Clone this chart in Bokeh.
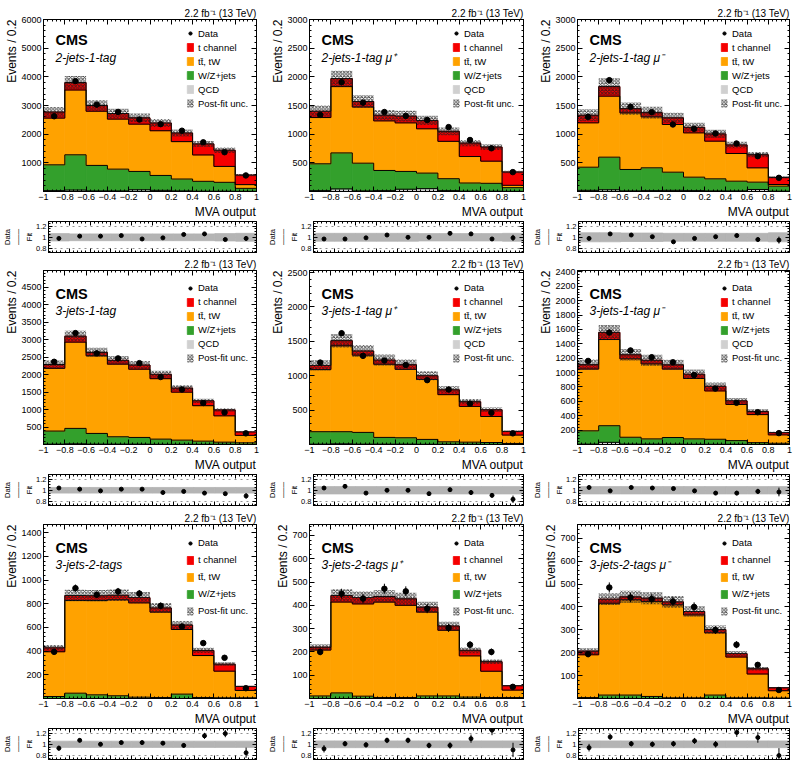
import math

from bokeh.embed import file_html
from bokeh.layouts import column, row
from bokeh.models import (FixedTicker, Grid, Label, Legend, LegendItem, LinearAxis,
                          Range1d, Title)
from bokeh.plotting import figure
from bokeh.resources import INLINE

FONT = "Liberation Sans"

# ---------------------------------------------------------------- binning
bin_edges = [-1.0, -0.8, -0.6, -0.4, -0.2, 0.0, 0.2, 0.4, 0.6, 0.8, 1.0]
x_tick_labels = ["\u22121", "\u22120.8", "\u22120.6", "\u22120.4", "\u22120.2", "0",
                 "0.2", "0.4", "0.6", "0.8", "1"]
ratio_ticks = [0.8, 1.0, 1.2]
ratio_tick_labels = ["0.8", "1", "1.2"]

# ---------------------------------------------------------------- 2-jets-1-tag
qcd_2j1t = [30, 50, 20, 20, 60, 40, 20, 10, 10, 5]
wz_2j1t = [900, 1230, 890, 760, 640, 520, 415, 345, 310, 105]
tt_2j1t = [1630, 2260, 1890, 1745, 1650, 1560, 1305, 920, 555, 130]
tch_2j1t = [210, 260, 200, 195, 220, 270, 300, 385, 565, 330]
data_2j1t = [2625, 3850, 3030, 2775, 2510, 2350, 2120, 1715, 1370, 560]
ratio_2j1t = [0.98, 1.02, 1.02, 1.03, 0.97, 0.99, 1.05, 1.06, 0.96, 0.98]
unc_2j1t = [0.065, 0.06, 0.06, 0.06, 0.06, 0.06, 0.06, 0.06, 0.065, 0.07]
yticks_2j1t = [1000, 2000, 3000, 4000, 5000, 6000]

# 2-jets-1-tag mu+
qcd_2j1t_p = [15, 45, 10, 15, 40, 50, 15, 5, 5, 3]
wz_2j1t_p = [468, 628, 484, 352, 310, 271, 208, 143, 138, 64]
tt_2j1t_p = [807, 1157, 980, 865, 847, 773, 652, 462, 386, 41]
tch_2j1t_p = [110, 140, 96, 98, 118, 146, 175, 235, 246, 232]
data_2j1t_p = [1336, 1906, 1550, 1386, 1319, 1247, 1123, 898, 754, 338]
ratio_2j1t_p = [0.97, 0.97, 0.99, 1.04, 1.00, 1.00, 1.07, 1.06, 0.97, 0.99]
unc_2j1t_p = [0.07, 0.07, 0.07, 0.07, 0.07, 0.065, 0.065, 0.065, 0.065, 0.07]
yticks_2j1t_p = [500, 1000, 1500, 2000, 2500, 3000]

# 2-jets-1-tag mu-
qcd_2j1t_m = [20, 30, 10, 15, 20, 15, 10, 10, 35, 5]
wz_2j1t_m = [404, 569, 374, 398, 317, 235, 211, 170, 128, 88]
tt_2j1t_m = [774, 1064, 988, 889, 832, 773, 657, 483, 250, 29]
tch_2j1t_m = [132, 167, 73, 73, 116, 97, 127, 149, 229, 123]
data_2j1t_m = [1302, 1942, 1477, 1384, 1169, 1093, 1012, 837, 616, 238]
ratio_2j1t_m = [0.98, 1.06, 1.04, 1.01, 0.92, 0.98, 1.01, 1.03, 0.96, 0.95]
unc_2j1t_m = [0.08, 0.08, 0.075, 0.075, 0.07, 0.07, 0.07, 0.07, 0.07, 0.08]
yticks_2j1t_m = [500, 1000, 1500, 2000, 2500, 3000]

# ---------------------------------------------------------------- 3-jets-1-tag
qcd_3j1t = [10, 20, 10, 10, 10, 5, 5, 5, 5, 2]
wz_3j1t = [375, 441, 307, 211, 192, 149, 120, 91, 62, 46]
tt_3j1t = [1795, 2469, 2224, 2079, 1953, 1730, 1373, 1015, 754, 213]
tch_3j1t = [110, 170, 95, 110, 120, 126, 117, 139, 169, 99]
data_3j1t = [2367, 3188, 2609, 2464, 2329, 1932, 1575, 1188, 918, 319]
ratio_3j1t = [1.04, 1.02, 0.99, 1.02, 1.02, 0.96, 0.98, 0.95, 0.94, 0.90]
unc_3j1t = [0.05, 0.05, 0.05, 0.05, 0.05, 0.05, 0.05, 0.05, 0.05, 0.05]
yticks_3j1t = [500, 1000, 1500, 2000, 2500, 3000, 3500, 4000, 4500]

# 3-jets-1-tag mu+
qcd_3j1t_p = [5, 10, 5, 5, 5, 3, 3, 3, 2, 1]
wz_3j1t_p = [181, 176, 171, 98, 93, 71, 36, 31, 27, 14]
tt_3j1t_p = [904, 1250, 1123, 1064, 995, 872, 686, 520, 378, 122]
tch_3j1t_p = [60, 74, 61, 61, 67, 54, 70, 68, 98, 53]
data_3j1t_p = [1191, 1618, 1289, 1221, 1157, 936, 799, 593, 461, 162]
ratio_3j1t_p = [1.04, 1.07, 0.95, 1.00, 1.00, 0.94, 1.01, 0.96, 0.91, 0.84]
unc_3j1t_p = [0.065, 0.065, 0.065, 0.065, 0.065, 0.065, 0.065, 0.065, 0.065, 0.065]
yticks_3j1t_p = [500, 1000, 1500, 2000, 2500]

# 3-jets-1-tag mu-
qcd_3j1t_m = [5, 30, 5, 5, 5, 3, 3, 3, 2, 1]
wz_3j1t_m = [185, 231, 96, 73, 92, 75, 70, 51, 24, 16]
tt_3j1t_m = [860, 1199, 1090, 1043, 953, 840, 672, 503, 390, 117]
tch_3j1t_m = [60, 100, 57, 51, 58, 60, 65, 50, 44, 31]
data_3j1t_m = [1162, 1557, 1308, 1214, 1143, 966, 778, 580, 449, 158]
ratio_3j1t_m = [1.05, 0.99, 1.05, 1.04, 1.03, 0.99, 0.95, 0.95, 0.98, 0.97]
unc_3j1t_m = [0.065, 0.065, 0.065, 0.065, 0.065, 0.065, 0.065, 0.065, 0.065, 0.065]
yticks_3j1t_m = [200, 400, 600, 800, 1000, 1200, 1400, 1600, 1800, 2000, 2200, 2400]

# ---------------------------------------------------------------- 3-jets-2-tags
wz_3j2t = [17, 45, 31, 23, 11, 8, 37, 8, 6, 6]
tt_3j2t = [378, 783, 797, 811, 797, 722, 546, 355, 225, 62]
tch_3j2t = [33, 42, 40, 38, 44, 35, 38, 43, 59, 34]
data_3j2t = [394, 932, 876, 904, 887, 783, 608, 468, 344, 87]
ratio_3j2t = [0.93, 1.07, 1.00, 1.03, 1.03, 1.02, 0.98, 1.15, 1.19, 0.85]
unc_3j2t = [0.055, 0.055, 0.055, 0.055, 0.055, 0.055, 0.055, 0.055, 0.055, 0.055]
yticks_3j2t = [200, 400, 600, 800, 1000, 1200, 1400]

# 3-jets-2-tags mu+
wz_3j2t_p = [11, 24, 10, 4, 4, 11, 11, 6, 4, 4]
tt_3j2t_p = [197, 390, 396, 410, 396, 360, 282, 177, 113, 32]
tch_3j2t_p = [12, 28, 27, 24, 28, 21, 18, 24, 41, 19]
data_3j2t_p = [200, 450, 429, 471, 460, 386, 303, 231, 200, 50]
ratio_3j2t_p = [0.92, 1.01, 0.99, 1.07, 1.07, 0.98, 0.98, 1.10, 1.25, 0.90]
unc_3j2t_p = [0.06, 0.06, 0.06, 0.06, 0.06, 0.06, 0.06, 0.06, 0.06, 0.06]
yticks_3j2t_p = [100, 200, 300, 400, 500, 600, 700]

# 3-jets-2-tags mu-
wz_3j2t_m = [4, 15, 15, 9, 3, 3, 15, 3, 3, 2]
tt_3j2t_m = [187, 401, 416, 415, 406, 362, 272, 178, 104, 32]
tch_3j2t_m = [16, 18, 13, 14, 13, 15, 14, 15, 23, 13]
data_3j2t_m = [194, 485, 441, 435, 424, 400, 299, 235, 147, 37]
ratio_3j2t_m = [0.94, 1.13, 1.01, 1.00, 1.01, 1.06, 1.00, 1.21, 1.12, 0.80]
unc_3j2t_m = [0.06, 0.06, 0.06, 0.06, 0.06, 0.06, 0.06, 0.06, 0.06, 0.06]
yticks_3j2t_m = [100, 200, 300, 400, 500, 600, 700]

PANELS = [
    [dict(label="2-jets-1-tag", qcd=qcd_2j1t, wz=wz_2j1t, tt=tt_2j1t, tch=tch_2j1t,
          data=data_2j1t, ratio=ratio_2j1t, unc=unc_2j1t, yticks=yticks_2j1t, ymax=6000),
     dict(label="2-jets-1-tag  \u03bc\u207a", qcd=qcd_2j1t_p, wz=wz_2j1t_p, tt=tt_2j1t_p,
          tch=tch_2j1t_p, data=data_2j1t_p, ratio=ratio_2j1t_p, unc=unc_2j1t_p,
          yticks=yticks_2j1t_p, ymax=3000),
     dict(label="2-jets-1-tag  \u03bc\u207b", qcd=qcd_2j1t_m, wz=wz_2j1t_m, tt=tt_2j1t_m,
          tch=tch_2j1t_m, data=data_2j1t_m, ratio=ratio_2j1t_m, unc=unc_2j1t_m,
          yticks=yticks_2j1t_m, ymax=3000)],
    [dict(label="3-jets-1-tag", qcd=qcd_3j1t, wz=wz_3j1t, tt=tt_3j1t, tch=tch_3j1t,
          data=data_3j1t, ratio=ratio_3j1t, unc=unc_3j1t, yticks=yticks_3j1t, ymax=4980),
     dict(label="3-jets-1-tag  \u03bc\u207a", qcd=qcd_3j1t_p, wz=wz_3j1t_p, tt=tt_3j1t_p,
          tch=tch_3j1t_p, data=data_3j1t_p, ratio=ratio_3j1t_p, unc=unc_3j1t_p,
          yticks=yticks_3j1t_p, ymax=2530),
     dict(label="3-jets-1-tag  \u03bc\u207b", qcd=qcd_3j1t_m, wz=wz_3j1t_m, tt=tt_3j1t_m,
          tch=tch_3j1t_m, data=data_3j1t_m, ratio=ratio_3j1t_m, unc=unc_3j1t_m,
          yticks=yticks_3j1t_m, ymax=2420)],
    [dict(label="3-jets-2-tags", qcd=None, wz=wz_3j2t, tt=tt_3j2t, tch=tch_3j2t,
          data=data_3j2t, ratio=ratio_3j2t, unc=unc_3j2t, yticks=yticks_3j2t, ymax=1470),
     dict(label="3-jets-2-tags  \u03bc\u207a", qcd=None, wz=wz_3j2t_p, tt=tt_3j2t_p,
          tch=tch_3j2t_p, data=data_3j2t_p, ratio=ratio_3j2t_p, unc=unc_3j2t_p,
          yticks=yticks_3j2t_p, ymax=747),
     dict(label="3-jets-2-tags  \u03bc\u207b", qcd=None, wz=wz_3j2t_m, tt=tt_3j2t_m,
          tch=tch_3j2t_m, data=data_3j2t_m, ratio=ratio_3j2t_m, unc=unc_3j2t_m,
          yticks=yticks_3j2t_m, ymax=760)],
]

# ---------------------------------------------------------------- styling
TCH_COLOR = "#f50000"
TT_COLOR = "#ffa200"
WZ_COLOR = "#33a02c"
QCD_COLOR = "#d0d0d0"
BAND_COLOR = "#b4b4b4"
TT_LABEL = "tt\u0304, tW"

PANEL_W = 265
COL_BORDERS = [(43, 9), (44, 7), (47, 6)]          # left / right border per column
MAIN_ROWS = [(19, 172, 28), (16, 174, 28), (17, 174, 28)]   # top, frame, bottom
RATIO_ROWS = [(2, 31, 2), (2, 31, 2), (2, 31, 10)]
TEXT_OFFSETS = [(20, 38), (23, 40), (23, 40)]      # CMS / category baselines below frame top
LEGEND_ROWS = [(14.3, 3), (17.7, 3), (18.7, 6)]    # first item centre, gap between items
LEGEND_ITEM_H = 11

x_minor = [round(-1 + 0.04 * k, 2) for k in range(51)]
x_label_map = dict(zip(bin_edges, x_tick_labels))
lefts = bin_edges[:-1]
rights = bin_edges[1:]
centers = [(a + b) / 2 for a, b in zip(lefts, rights)]


def add_axis(p, side, ticker, labels=None, font_size="9px", show=True, tick=5):
    ax = LinearAxis(ticker=ticker)
    ax.axis_line_color = "black"
    ax.major_tick_in = tick
    ax.major_tick_out = 0
    ax.minor_tick_in = max(2, tick // 2)
    ax.minor_tick_out = 0
    ax.major_tick_line_color = "black"
    ax.minor_tick_line_color = "black"
    ax.major_label_text_font = FONT
    if show:
        ax.major_label_text_color = "black"
        ax.major_label_text_font_size = font_size
        ax.major_label_standoff = 2
        if labels:
            ax.major_label_overrides = labels
    else:
        # tick marks only: labels take no room and are not drawn
        ax.major_label_text_color = None
        ax.major_label_text_font_size = "0px"
        ax.major_label_standoff = 0
    p.add_layout(ax, side)
    return ax


def caption(text, align, size, standoff=0):
    return Title(text=text, align=align, text_font=FONT, text_font_size=size,
                 text_font_style="normal", text_color="black",
                 standoff=standoff, offset=0)


def step_path(top):
    xs, ys = [bin_edges[0]], [0]
    for l, r, t in zip(lefts, rights, top):
        xs += [l, r]
        ys += [t, t]
    xs.append(bin_edges[-1])
    ys.append(0)
    return xs, ys


def base_figure(width, height, borders, x_range, y_range):
    left, right, top, bottom = borders
    p = figure(width=width, height=height, x_range=x_range, y_range=y_range,
               x_axis_type=None, y_axis_type=None, title=None,
               output_backend="svg", toolbar_location=None,
               min_border_left=left, min_border_right=right,
               min_border_top=top, min_border_bottom=bottom)
    p.outline_line_color = "black"
    p.outline_line_width = 1
    p.background_fill_color = "white"
    p.border_fill_color = "white"
    return p


def main_panel(spec, col, rw):
    left, right = COL_BORDERS[col]
    top, frame_h, bottom = MAIN_ROWS[rw]
    p = base_figure(PANEL_W, top + frame_h + bottom, (left, right, top, bottom),
                    Range1d(-1, 1), Range1d(0, spec["ymax"]))

    yt = spec["yticks"]
    step = yt[1] - yt[0]
    y_minor = [k * step / 5 for k in range(int(spec["ymax"] / step * 5) + 1)]
    xticker = FixedTicker(ticks=bin_edges, minor_ticks=x_minor)
    yticker = FixedTicker(ticks=yt, minor_ticks=y_minor)
    add_axis(p, "below", xticker, labels=x_label_map)
    add_axis(p, "left", yticker)
    add_axis(p, "above", xticker, show=False)
    add_axis(p, "right", yticker, show=False)

    p.add_layout(caption("MVA output", "right", "12px"), "below")
    p.add_layout(caption("Events / 0.2", "right", "12px"), "left")
    p.add_layout(caption("2.2 fb\u207b\u00b9 (13 TeV)", "right", "10px", standoff=2), "above")

    # stacked backgrounds + signal
    layers = []
    if spec["qcd"] is not None:
        layers.append(("QCD", spec["qcd"], QCD_COLOR))
    layers += [("W/Z+jets", spec["wz"], WZ_COLOR),
               (TT_LABEL, spec["tt"], TT_COLOR),
               ("t channel", spec["tch"], TCH_COLOR)]
    base = [0.0] * len(centers)
    rends = {}
    tops = []
    for name, vals, color in layers:
        top_vals = [b + v for b, v in zip(base, vals)]
        rends[name] = p.quad(left=lefts, right=rights, bottom=base, top=top_vals,
                             fill_color=color, line_color=color, line_width=0.8)
        tops.append(top_vals)
        base = top_vals
    total = base
    for top_vals in tops:
        xs, ys = step_path(top_vals)
        p.line(xs, ys, line_color="black", line_width=1)

    # post-fit uncertainty band
    lo = [t * (1 - u) for t, u in zip(total, spec["unc"])]
    hi = [t * (1 + u) for t, u in zip(total, spec["unc"])]
    band = p.quad(left=lefts, right=rights, bottom=lo, top=hi, fill_alpha=0,
                  line_alpha=0, hatch_pattern="diagonal_cross", hatch_color="#1e1e1e",
                  hatch_scale=3.5, hatch_weight=0.9, hatch_alpha=0.9)

    # data
    data = spec["data"]
    err = [math.sqrt(d) for d in data]
    p.segment(x0=centers, x1=centers, y0=[d - e for d, e in zip(data, err)],
              y1=[d + e for d, e in zip(data, err)], line_color="black", line_width=1)
    dots = p.scatter(centers, data, size=5.5, color="black")

    items = [LegendItem(label="Data", renderers=[dots]),
             LegendItem(label="t channel", renderers=[rends["t channel"]]),
             LegendItem(label=TT_LABEL, renderers=[rends[TT_LABEL]]),
             LegendItem(label="W/Z+jets", renderers=[rends["W/Z+jets"]])]
    if "QCD" in rends:
        items.append(LegendItem(label="QCD", renderers=[rends["QCD"]]))
    items.append(LegendItem(label="Post-fit unc.", renderers=[band]))
    first, gap = LEGEND_ROWS[rw]
    pitch = LEGEND_ITEM_H + gap
    leg_bottom = first + (len(items) - 1) * pitch + LEGEND_ITEM_H / 2
    legend = Legend(items=items, location=(143, frame_h - leg_bottom),
                    glyph_width=8, glyph_height=10, label_height=LEGEND_ITEM_H,
                    label_width=10, label_standoff=4, spacing=gap, padding=0, margin=0,
                    label_text_font=FONT, label_text_font_size="9.5px",
                    label_text_color="black",
                    border_line_alpha=0, background_fill_alpha=0)
    p.add_layout(legend)

    cms_off, lab_off = TEXT_OFFSETS[rw]
    p.add_layout(Label(x=12, y=frame_h - cms_off, x_units="screen", y_units="screen",
                       text="CMS", text_font=FONT, text_font_size="14.5px",
                       text_font_style="bold", text_color="black",
                       text_baseline="alphabetic"))
    p.add_layout(Label(x=12, y=frame_h - lab_off, x_units="screen", y_units="screen",
                       text=spec["label"], text_font=FONT, text_font_size="12px",
                       text_font_style="italic", text_color="black",
                       text_baseline="alphabetic"))
    return p


def ratio_panel(spec, col, rw, x_range):
    left, right = COL_BORDERS[col]
    top, frame_h, bottom = RATIO_ROWS[rw]
    r = base_figure(PANEL_W, top + frame_h + bottom, (left, right, top, bottom),
                    x_range, Range1d(0.73, 1.28))
    xticker = FixedTicker(ticks=bin_edges, minor_ticks=x_minor)
    rticker = FixedTicker(ticks=ratio_ticks,
                          minor_ticks=[0.75, 0.8, 0.85, 0.9, 0.95, 1.0, 1.05, 1.1, 1.15, 1.2, 1.25])
    add_axis(r, "below", xticker, show=False, tick=4)
    add_axis(r, "left", rticker, labels=dict(zip(ratio_ticks, ratio_tick_labels)),
             font_size="7.5px", tick=4)
    add_axis(r, "above", xticker, show=False, tick=4)
    add_axis(r, "right", rticker, show=False, tick=4)
    r.add_layout(Grid(dimension=1, ticker=FixedTicker(ticks=ratio_ticks),
                      grid_line_color="#777777", grid_line_dash="dotted",
                      grid_line_width=0.8))

    # stacked "Data over Fit" caption, read bottom-to-top
    for text in ["Fit", "\u2500\u2500\u2500", "Data"]:
        r.add_layout(caption(text, "center", "7.5px"), "left")

    r.quad(left=lefts, right=rights, bottom=[1 - u for u in spec["unc"]],
           top=[1 + u for u in spec["unc"]], fill_color=BAND_COLOR,
           line_color=BAND_COLOR, line_width=0.8)
    ratio = spec["ratio"]
    rerr = [q / math.sqrt(d) for q, d in zip(ratio, spec["data"])]
    r.segment(x0=centers, x1=centers, y0=[q - e for q, e in zip(ratio, rerr)],
              y1=[q + e for q, e in zip(ratio, rerr)], line_color="black", line_width=1)
    r.scatter(centers, ratio, size=4, color="black")
    return r


rows = []
for rw, specs in enumerate(PANELS):
    mains, ratios = [], []
    for col, spec in enumerate(specs):
        p = main_panel(spec, col, rw)
        mains.append(p)
        ratios.append(ratio_panel(spec, col, rw, p.x_range))
    rows.append(row(*mains, spacing=0))
    rows.append(row(*ratios, spacing=0))

layout = column(*rows, spacing=0)

open("out.html", "w").write(file_html(layout, INLINE, "Single-top t-channel MVA output"))
